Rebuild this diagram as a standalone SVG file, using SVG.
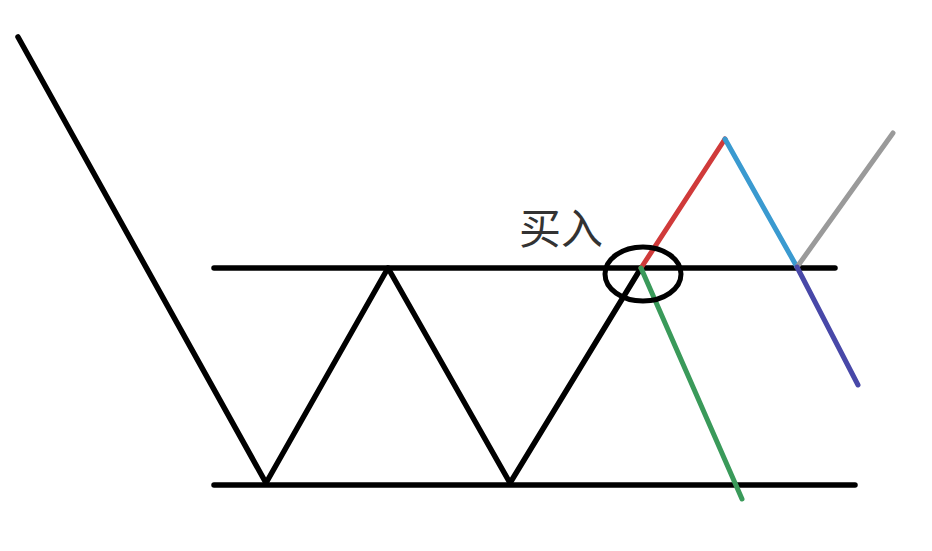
<svg xmlns="http://www.w3.org/2000/svg" width="932" height="551" viewBox="0 0 932 551">
<style>
.k{stroke:#000;stroke-width:5.5;fill:none;stroke-linecap:round;stroke-linejoin:round}
.c{stroke-width:5;fill:none;stroke-linecap:round}
.t{font-family:"Noto Sans CJK SC","Liberation Sans",sans-serif;font-size:42px;fill:#333}
</style>
<rect width="932" height="551" fill="#fff"/>
<g id="levels">
<line class="k" x1="214" y1="268" x2="835" y2="268"/>
<line class="k" x1="214" y1="485" x2="855" y2="485"/>
</g>
<g id="price">
<polyline class="k" points="18,37 266,483 388,268 510,483 641,268"/>
</g>
<g id="scenarios">
<line class="c" stroke="#d03a3a" x1="641" y1="268" x2="725" y2="139"/>
<line class="c" stroke="#3a9ad0" x1="725" y1="139" x2="797" y2="267"/>
<line class="c" stroke="#9a9a9a" x1="797" y1="267" x2="893" y2="133"/>
<line class="c" stroke="#4848a8" x1="797" y1="267" x2="858" y2="385"/>
<line class="c" stroke="#3a9a5a" x1="641" y1="268" x2="742" y2="499"/>
</g>
<g id="buy">
<ellipse cx="643" cy="274" rx="38" ry="27" stroke="#000" stroke-width="5" fill="none"/>
<text class="t" x="519" y="244">买入</text>
</g>
</svg>
